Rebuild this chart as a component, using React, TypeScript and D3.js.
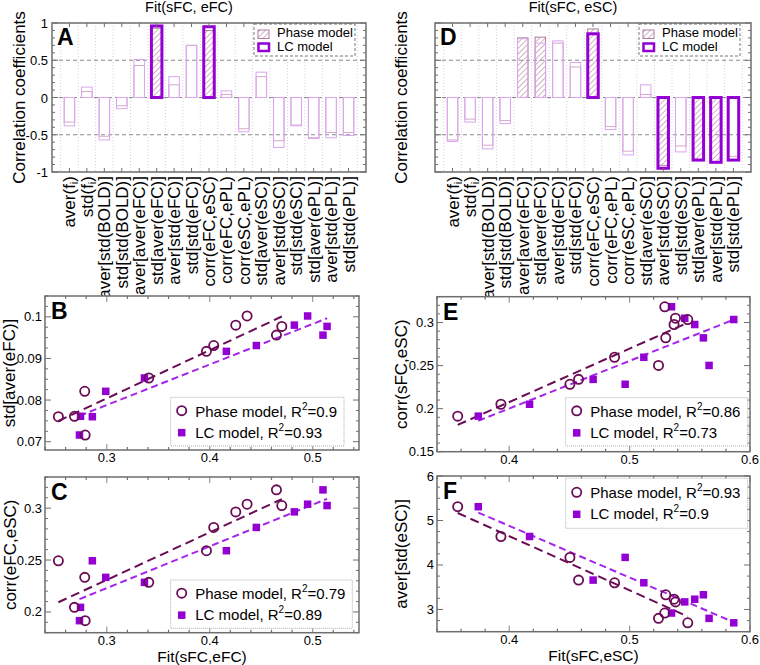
import React from 'react';
import * as d3 from 'd3';

const FONT = "'Liberation Sans', Arial, Helvetica, sans-serif";

// ---------- Bar panels (A, D) ----------
const categories = [
  'aver(f_i)', 'std(f_i)', 'aver[std(BOLD)]', 'std[std(BOLD)]', 'aver[aver(eFC)]',
  'std[aver(eFC)]', 'aver[std(eFC)]', 'std[std(eFC)]', 'corr(eFC,eSC)', 'corr(eFC,ePL)',
  'corr(eSC,ePL)', 'std[aver(eSC)]', 'aver[std(eSC)]', 'std[std(eSC)]', 'std[aver(ePL)]',
  'aver[std(ePL)]', 'std[std(ePL)]',
];
const phaseA = [-0.33, 0.08, -0.52, -0.11, 0.43, 0.93, 0.17, 0.70, 0.90, 0.04, -0.42, 0.28, -0.58, -0.37, -0.54, -0.47, -0.47];
const lcA = [-0.38, 0.14, -0.57, -0.15, 0.51, 0.96, 0.28, 0.70, 0.95, 0.09, -0.46, 0.34, -0.67, -0.38, -0.55, -0.54, -0.51];
const phaseSigA = [5, 8];
const lcSigA = [5, 8];

const phaseD = [-0.57, -0.29, -0.64, -0.31, 0.80, 0.81, 0.73, 0.41, 0.92, -0.39, -0.72, 0.04, -0.91, -0.65, -0.83, -0.86, -0.79];
const lcD = [-0.59, -0.33, -0.69, -0.35, 0.79, 0.73, 0.76, 0.47, 0.855, -0.43, -0.77, 0.17, -0.95, -0.73, -0.84, -0.87, -0.84];
const phaseSigD = [4, 5, 8, 12, 14, 15];
const lcSigD = [8, 12, 14, 15, 16];

const barYTicks = [-1, -0.5, 0, 0.5, 1];

// ---------- Scatter panels (B, C, E, F) ----------
const fitEFCphase = [0.253, 0.2686, 0.2786, 0.279, 0.3408, 0.3968, 0.4039, 0.4253, 0.4363, 0.4648, 0.470];
const fitEFClc = [0.286, 0.2745, 0.299, 0.2735, 0.3366, 0.4162, 0.4453, 0.4822, 0.4951, 0.510, 0.514];
const stdAverEFC = [0.0760, 0.0761, 0.0821, 0.0716, 0.0853, 0.0917, 0.0931, 0.0980, 0.1002, 0.0956, 0.0977];
const corrEFCeSC = [0.2493, 0.2044, 0.2333, 0.1916, 0.2285, 0.2590, 0.2814, 0.2964, 0.3038, 0.3176, 0.3025];

const fitESCphase = [0.3572, 0.3931, 0.4504, 0.4576, 0.4875, 0.524, 0.530, 0.5292, 0.5381, 0.5369, 0.5483];
const fitESClc = [0.3743, 0.4169, 0.4963, 0.4697, 0.5118, 0.566, 0.5613, 0.5348, 0.5458, 0.5541, 0.5865];
const corrSFCeSC = [0.1913, 0.2051, 0.2283, 0.2340, 0.2597, 0.2502, 0.2822, 0.3183, 0.3050, 0.2977, 0.3035];
const averStdESC = [5.31, 4.64, 4.17, 3.66, 3.60, 2.80, 3.33, 2.92, 3.17, 3.23, 2.70];

const r2B = ['0.9', '0.93'];
const r2C = ['0.79', '0.89'];
const r2E = ['0.86', '0.73'];
const r2F = ['0.93', '0.9'];

const PHASE = '#6a0c55';
const LC = '#9400d3';
const LC_LINE = '#a524ea';
const HATCH = '#b07a9e';
const PHASE_THIN = '#d6a6c9';
const LC_THIN = '#dba6f0';
const FRAME = '#6e6e6e';

function CatLabel({ text, x, y }: { text: string; x: number; y: number }) {
  const hasSub = text.includes('_i');
  const parts = text.split('_i');
  return (
    <text transform={`translate(${x},${y}) rotate(-90)`} textAnchor="end" fontSize={17} fontFamily={FONT} fill="#000">
      {hasSub ? (
        <>
          {parts[0]}
          <tspan fontSize={11} dy={3}>i</tspan>
          <tspan dy={-3}>{parts[1]}</tspan>
        </>
      ) : text}
    </text>
  );
}

type BarProps = {
  left: number; right: number; top: number; bottom: number;
  phase: number[]; lc: number[]; phaseSig: number[]; lcSig: number[];
  showYTicks: boolean; letter: string; title: string; titleX: number; ylabelX: number;
  legendX: number; legendY: number;
};

function BarPanel(p: BarProps) {
  const x = d3.scaleLinear().domain([0, categories.length + 1]).range([p.left, p.right]);
  const y = d3.scaleLinear().domain([-1, 1]).range([p.bottom, p.top]);
  const bw = 10.5;
  const minor = d3.range(-1, 1.0001, 0.1);
  const half = d3.range(0.5, categories.length + 1, 1);
  return (
    <g>
      <text x={p.titleX} y={12} textAnchor="middle" fontSize={14.5} fontFamily={FONT}>{p.title}</text>
      <text transform={`translate(${p.ylabelX},${(p.top + p.bottom) / 2}) rotate(-90)`} textAnchor="middle" fontSize={17} fontFamily={FONT}>Correlation coefficients</text>
      {/* grid */}
      {half.map((h) => (
        <line key={'v' + h} x1={x(h)} x2={x(h)} y1={p.top} y2={p.bottom} stroke="#c8c8c8" strokeWidth={0.8} strokeDasharray="1,2" />
      ))}
      {[-0.5, 0, 0.5].map((v) => (
        <line key={'h' + v} x1={p.left} x2={p.right} y1={y(v)} y2={y(v)} stroke="#8a8a8a" strokeWidth={1} strokeDasharray="4,3" />
      ))}
      {/* bars */}
      {categories.map((c, i) => {
        const pv = p.phase[i];
        const lv = p.lc[i];
        const psig = p.phaseSig.includes(i);
        const lsig = p.lcSig.includes(i);
        const cx = x(i + 1);
        const py0 = Math.min(y(pv), y(0));
        const ph = Math.abs(y(pv) - y(0));
        const ly0 = Math.min(y(lv), y(0));
        const lh = Math.abs(y(lv) - y(0));
        return (
          <g key={c}>
            <rect x={cx - bw / 2} y={py0} width={bw} height={ph}
              fill={psig ? 'url(#hatch)' : 'none'} stroke={psig ? HATCH : PHASE_THIN} strokeWidth={1} />
            {!lsig && (
              <rect x={cx - bw / 2} y={ly0} width={bw} height={lh} fill="none" stroke={LC_THIN} strokeWidth={1} />
            )}
          </g>
        );
      })}
      {categories.map((c, i) => {
        if (!p.lcSig.includes(i)) return null;
        const lv = p.lc[i];
        const cx = x(i + 1);
        const ly0 = Math.min(y(lv), y(0));
        const lh = Math.abs(y(lv) - y(0));
        return <rect key={'t' + c} x={cx - bw / 2} y={ly0} width={bw} height={lh} fill="none" stroke={LC} strokeWidth={3} />;
      })}
      {/* frame & ticks */}
      <rect x={p.left} y={p.top} width={p.right - p.left} height={p.bottom - p.top} fill="none" stroke={FRAME} strokeWidth={1.5} />
      {minor.map((v) => {
        const major = barYTicks.some((t) => Math.abs(t - v) < 1e-6);
        const len = major ? 6 : 3;
        return (
          <g key={'yt' + v.toFixed(2)}>
            <line x1={p.left} x2={p.left + len} y1={y(v)} y2={y(v)} stroke={FRAME} strokeWidth={1} />
            <line x1={p.right} x2={p.right - len} y1={y(v)} y2={y(v)} stroke={FRAME} strokeWidth={1} />
          </g>
        );
      })}
      {categories.map((c, i) => (
        <g key={'xt' + c}>
          <line x1={x(i + 1)} x2={x(i + 1)} y1={p.top} y2={p.top + 4} stroke={FRAME} strokeWidth={1} />
          <line x1={x(i + 1)} x2={x(i + 1)} y1={p.bottom} y2={p.bottom - 4} stroke={FRAME} strokeWidth={1} />
        </g>
      ))}
      {p.showYTicks && barYTicks.map((t) => (
        <text key={'yl' + t} x={p.left - 4} y={y(t) + 5} textAnchor="end" fontSize={13} fontFamily={FONT}>{String(t)}</text>
      ))}
      {categories.map((c, i) => (
        <CatLabel key={'cl' + c} text={c} x={x(i + 1) + 6} y={p.bottom + 4} />
      ))}
      <text x={p.left + 5} y={p.top + 22} fontSize={23} fontWeight="bold" fontFamily={FONT}>{p.letter}</text>
      {/* legend */}
      <g transform={`translate(${p.legendX},${p.legendY})`}>
        <rect x={0} y={0} width={101} height={32} fill="#fff" stroke="#555" strokeWidth={0.8} strokeDasharray="3,2" />
        <rect x={4} y={6} width={11} height={8.5} fill="url(#hatch)" stroke={HATCH} strokeWidth={1} />
        <text x={23} y={13} fontSize={13} fontFamily={FONT}>Phase model</text>
        <rect x={4.5} y={19.5} width={10.5} height={7.5} fill="none" stroke={LC} strokeWidth={2.5} />
        <text x={23} y={27} fontSize={13} fontFamily={FONT}>LC model</text>
      </g>
    </g>
  );
}

function regression(xs: number[], ys: number[]) {
  const mx = d3.mean(xs) as number;
  const my = d3.mean(ys) as number;
  let num = 0;
  let den = 0;
  xs.forEach((v, i) => { num += (v - mx) * (ys[i] - my); den += (v - mx) * (v - mx); });
  const b = num / den;
  const a = my - b * mx;
  const x0 = d3.min(xs) as number;
  const x1 = d3.max(xs) as number;
  return [[x0, a + b * x0], [x1, a + b * x1]];
}

type ScatterProps = {
  left: number; right: number; top: number; bottom: number;
  xDomain: [number, number]; yDomain: [number, number];
  xTicks: number[]; yTicks: number[]; xMinor: number; yMinor: number;
  phaseX: number[]; lcX: number[]; ys: number[];
  letter: string; yLabel: string; yLabelX: number; xLabel?: string;
  legend: [number, number, number, number]; r2: string[];
};

const fmt = (v: number) => String(Math.round(v * 1000) / 1000);

function Scatter(p: ScatterProps) {
  const x = d3.scaleLinear().domain(p.xDomain).range([p.left, p.right]);
  const y = d3.scaleLinear().domain(p.yDomain).range([p.bottom, p.top]);
  const line = d3.line<number[]>().x((d) => x(d[0])).y((d) => y(d[1]));
  const regP = regression(p.phaseX, p.ys);
  const regL = regression(p.lcX, p.ys);
  const xm = d3.range(Math.ceil(p.xDomain[0] / p.xMinor - 1e-6) * p.xMinor, p.xDomain[1] + 1e-9, p.xMinor);
  const ym = d3.range(Math.ceil(p.yDomain[0] / p.yMinor - 1e-6) * p.yMinor, p.yDomain[1] + 1e-9, p.yMinor);
  const isMajor = (arr: number[], v: number) => arr.some((t) => Math.abs(t - v) < 1e-6);
  const [lx, ly, lw, lh] = p.legend;
  const sq = 7.5;
  return (
    <g>
      <rect x={p.left} y={p.top} width={p.right - p.left} height={p.bottom - p.top} fill="#fff" stroke="none" />
      {/* ticks */}
      {xm.map((v) => {
        const len = isMajor(p.xTicks, v) ? 6 : 3;
        const c = isMajor(p.xTicks, v) ? '#9a9a9a' : FRAME;
        return (
          <g key={'xm' + v.toFixed(3)}>
            <line x1={x(v)} x2={x(v)} y1={p.bottom} y2={p.bottom - len} stroke={c} strokeWidth={1.2} />
            <line x1={x(v)} x2={x(v)} y1={p.top} y2={p.top + len} stroke={c} strokeWidth={1.2} />
          </g>
        );
      })}
      {ym.map((v) => {
        const len = isMajor(p.yTicks, v) ? 6 : 3;
        return (
          <g key={'ym' + v.toFixed(4)}>
            <line x1={p.left} x2={p.left + len} y1={y(v)} y2={y(v)} stroke={FRAME} strokeWidth={1} />
            <line x1={p.right} x2={p.right - len} y1={y(v)} y2={y(v)} stroke={FRAME} strokeWidth={1} />
          </g>
        );
      })}
      {p.xTicks.map((t) => (
        <text key={'xl' + t} x={x(t)} y={p.bottom + 12} textAnchor="middle" fontSize={13} fontFamily={FONT}>{fmt(t)}</text>
      ))}
      {p.yTicks.map((t) => (
        <text key={'yl' + t} x={p.left - 3} y={y(t) + 4.5} textAnchor="end" fontSize={13} fontFamily={FONT}>{fmt(t)}</text>
      ))}
      <text transform={`translate(${p.yLabelX},${(p.top + p.bottom) / 2}) rotate(-90)`} textAnchor="middle" fontSize={17} fontFamily={FONT}>{p.yLabel}</text>
      {p.xLabel && (
        <text x={(p.left + p.right) / 2} y={p.bottom + 29.5} textAnchor="middle" fontSize={15.5} fontFamily={FONT}>{p.xLabel}</text>
      )}
      {/* regression lines */}
      <path d={line(regP) as string} fill="none" stroke={PHASE} strokeWidth={2} strokeDasharray="9,5" />
      <path d={line(regL) as string} fill="none" stroke={LC_LINE} strokeWidth={2} strokeDasharray="7,4" />
      {/* points */}
      {p.lcX.map((v, i) => (
        <rect key={'s' + i} x={x(v) - sq / 2} y={y(p.ys[i]) - sq / 2} width={sq} height={sq} fill={LC} />
      ))}
      {p.phaseX.map((v, i) => (
        <circle key={'c' + i} cx={x(v)} cy={y(p.ys[i])} r={4.6} fill="none" stroke={PHASE} strokeWidth={1.8} />
      ))}
      <rect x={p.left} y={p.top} width={p.right - p.left} height={p.bottom - p.top} fill="none" stroke={FRAME} strokeWidth={1.5} />
      <text x={p.left + 6} y={p.top + 23} fontSize={23} fontWeight="bold" fontFamily={FONT}>{p.letter}</text>
      {/* legend */}
      <g transform={`translate(${lx},${ly})`}>
        <rect x={0} y={0} width={lw} height={lh} fill="#fff" stroke="#999" strokeWidth={0.8} strokeDasharray="1,1" />
        <circle cx={11} cy={lh / 2 - 11} r={4.6} fill="none" stroke={PHASE} strokeWidth={1.8} />
        <text x={24.5} y={lh / 2 - 5} fontSize={15} fontFamily={FONT}>
          Phase model, R<tspan fontSize={10} dy={-7}>2</tspan><tspan dy={7}>={p.r2[0]}</tspan>
        </text>
        <rect x={11 - sq / 2} y={lh / 2 + 11 - sq / 2} width={sq} height={sq} fill={LC} />
        <text x={24.5} y={lh / 2 + 16} fontSize={15} fontFamily={FONT}>
          LC model, R<tspan fontSize={10} dy={-7}>2</tspan><tspan dy={7}>={p.r2[1]}</tspan>
        </text>
      </g>
    </g>
  );
}

export default function App() {
  return (
    <svg width={760} height={665} style={{ position: 'absolute', left: 0, top: 0, background: '#fff' }} fontFamily={FONT}>
      <defs>
        <pattern id="hatch" patternUnits="userSpaceOnUse" width={4} height={4} patternTransform="rotate(45)">
          <line x1={0} y1={0} x2={0} y2={4} stroke={HATCH} strokeWidth={1.2} />
        </pattern>
      </defs>
      <rect x={0} y={0} width={760} height={665} fill="#fff" />
      <BarPanel left={52} right={366} top={23} bottom={172} phase={phaseA} lc={lcA} phaseSig={phaseSigA} lcSig={lcSigA}
        showYTicks letter="A" title="Fit(sFC, eFC)" titleX={189} ylabelX={25} legendX={254} legendY={24} />
      <BarPanel left={435} right={751} top={23} bottom={172} phase={phaseD} lc={lcD} phaseSig={phaseSigD} lcSig={lcSigD}
        showYTicks={false} letter="D" title="Fit(sFC, eSC)" titleX={573} ylabelX={407} legendX={639} legendY={24} />
      <Scatter left={45} right={359} top={296} bottom={450} xDomain={[0.24, 0.545]} yDomain={[0.068, 0.105]}
        xTicks={[0.3, 0.4, 0.5]} yTicks={[0.07, 0.08, 0.09, 0.1]} xMinor={0.02} yMinor={0.0025}
        phaseX={fitEFCphase} lcX={fitEFClc} ys={stdAverEFC} letter="B" yLabel="std[aver(eFC)]" yLabelX={15}
        legend={[170.7, 397.3, 173.3, 48.7]} r2={r2B} />
      <Scatter left={45} right={359} top={477} bottom={632.7} xDomain={[0.24, 0.545]} yDomain={[0.18, 0.33]}
        xTicks={[0.3, 0.4, 0.5]} yTicks={[0.2, 0.25, 0.3]} xMinor={0.02} yMinor={0.01}
        phaseX={fitEFCphase} lcX={fitEFClc} ys={corrEFCeSC} letter="C" yLabel="corr(eFC,eSC)" yLabelX={16}
        xLabel="Fit(sFC,eFC)" legend={[170.7, 580, 181.6, 48.3]} r2={r2C} />
      <Scatter left={437} right={750} top={296.7} bottom={451.7} xDomain={[0.34, 0.6]} yDomain={[0.15, 0.33]}
        xTicks={[0.4, 0.5, 0.6]} yTicks={[0.15, 0.2, 0.25, 0.3]} xMinor={0.02} yMinor={0.01}
        phaseX={fitESCphase} lcX={fitESClc} ys={corrSFCeSC} letter="E" yLabel="corr(sFC,eSC)" yLabelX={407}
        legend={[565.7, 397.7, 182, 48.3]} r2={r2E} />
      <Scatter left={437} right={750} top={476} bottom={631.7} xDomain={[0.34, 0.6]} yDomain={[2.5, 6]}
        xTicks={[0.4, 0.5, 0.6]} yTicks={[3, 4, 5, 6]} xMinor={0.02} yMinor={0.25}
        phaseX={fitESCphase} lcX={fitESClc} ys={averStdESC} letter="F" yLabel="aver[std(eSC)]" yLabelX={407}
        xLabel="Fit(sFC,eSC)" legend={[565.7, 478.3, 182, 50]} r2={r2F} />
    </svg>
  );
}
